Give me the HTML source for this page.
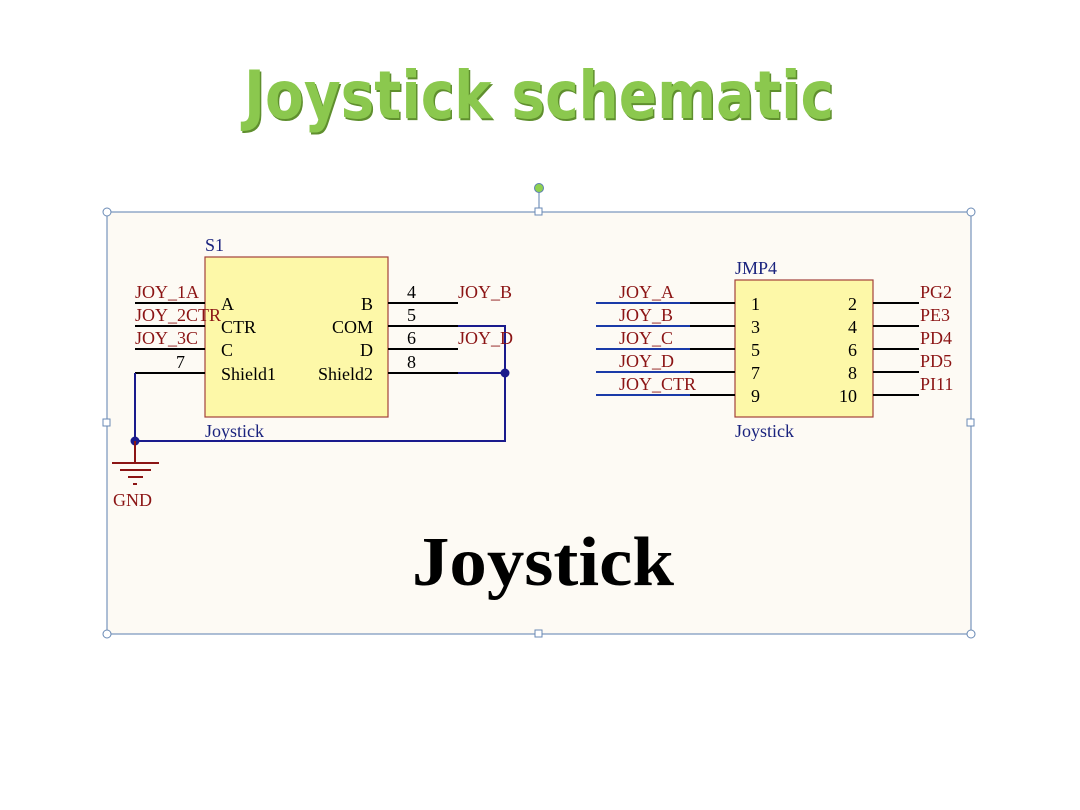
<!DOCTYPE html>
<html><head><meta charset="utf-8"><style>
html,body{margin:0;padding:0;background:#fff;width:1080px;height:810px;overflow:hidden}
svg{display:block}
.r{fill:#8b1414;font-family:"Liberation Serif",serif;font-size:18px}
.k{fill:#000;font-family:"Liberation Serif",serif;font-size:18px}
.b{fill:#1a237e;font-family:"Liberation Serif",serif;font-size:18px}
</style></head><body>
<svg width="1080" height="810" viewBox="0 0 1080 810" xmlns="http://www.w3.org/2000/svg">
<text x="539" y="118" text-anchor="middle" font-family="'DejaVu Sans',sans-serif" font-weight="bold" font-size="66" fill="#5f8f2e" textLength="590" lengthAdjust="spacingAndGlyphs" transform="translate(1.5,2)">Joystick schematic</text>
<text x="539" y="118" text-anchor="middle" font-family="'DejaVu Sans',sans-serif" font-weight="bold" font-size="66" fill="#8bc84e" textLength="590" lengthAdjust="spacingAndGlyphs">Joystick schematic</text>

<rect x="107" y="212" width="864" height="422" fill="#fdfaf4" stroke="#5b7faf" stroke-width="1"/>
<line x1="539" y1="188" x2="539" y2="212" stroke="#5b7faf"/>
<circle cx="539" cy="188" r="4.5" fill="#8fd14f" stroke="#5b7faf"/>
<g fill="#fff" stroke="#6a8ab5">
<circle cx="107" cy="212" r="4"/><circle cx="971" cy="212" r="4"/><circle cx="107" cy="634" r="4"/><circle cx="971" cy="634" r="4"/>
<rect x="535" y="208" width="7" height="7"/><rect x="535" y="630" width="7" height="7"/><rect x="103" y="419" width="7" height="7"/><rect x="967" y="419" width="7" height="7"/>
</g>

<!-- S1 -->
<rect x="205" y="257" width="183" height="160" fill="#fdf8a8" stroke="#a3413b" stroke-width="1.2"/>
<text class="b" x="205" y="251">S1</text>
<text class="b" x="205" y="437">Joystick</text>
<g stroke="#000" stroke-width="2">
<line x1="135" y1="303" x2="205" y2="303"/><line x1="135" y1="326" x2="205" y2="326"/><line x1="135" y1="349" x2="205" y2="349"/><line x1="135" y1="373" x2="205" y2="373"/>
<line x1="388" y1="303" x2="458" y2="303"/><line x1="388" y1="326" x2="458" y2="326"/><line x1="388" y1="349" x2="458" y2="349"/><line x1="388" y1="373" x2="458" y2="373"/>
</g>
<g stroke="#1a1a8c" stroke-width="2" fill="none">
<polyline points="458,326 505,326 505,441 135,441 135,373"/>
<line x1="458" y1="373" x2="505" y2="373"/>
<line x1="135" y1="441" x2="135" y2="463"/>
</g>
<circle cx="505" cy="373" r="4.5" fill="#1a1a8c"/><circle cx="135" cy="441" r="4.5" fill="#1a1a8c"/>
<g stroke="#8b1414" stroke-width="2">
<line x1="135" y1="441" x2="135" y2="463"/>
<line x1="112" y1="463" x2="159" y2="463"/><line x1="120" y1="470" x2="151" y2="470"/><line x1="128" y1="477" x2="143" y2="477"/><line x1="133" y1="484" x2="137" y2="484"/>
</g>
<text class="r" x="113" y="506">GND</text>
<text class="r" x="135" y="298">JOY_1A</text>
<text class="r" x="135" y="321">JOY_2CTR</text>
<text class="r" x="135" y="344">JOY_3C</text>
<text class="k" x="176" y="368">7</text>
<text class="k" x="221" y="310">A</text>
<text class="k" x="221" y="333">CTR</text>
<text class="k" x="221" y="356">C</text>
<text class="k" x="221" y="380">Shield1</text>
<text class="k" x="373" y="310" text-anchor="end">B</text>
<text class="k" x="373" y="333" text-anchor="end">COM</text>
<text class="k" x="373" y="356" text-anchor="end">D</text>
<text class="k" x="373" y="380" text-anchor="end">Shield2</text>
<text class="k" x="407" y="298">4</text><text class="k" x="407" y="321">5</text><text class="k" x="407" y="344">6</text><text class="k" x="407" y="368">8</text>
<text class="r" x="458" y="298">JOY_B</text>
<text class="r" x="458" y="344">JOY_D</text>

<!-- JMP4 -->
<rect x="735" y="280" width="138" height="137" fill="#fdf8a8" stroke="#a3413b" stroke-width="1.2"/>
<text class="b" x="735" y="274">JMP4</text>
<text class="b" x="735" y="437">Joystick</text>
<g stroke-width="2">
<g stroke="#1a3aa8"><line x1="596" y1="303" x2="690" y2="303"/><line x1="596" y1="326" x2="690" y2="326"/><line x1="596" y1="349" x2="690" y2="349"/><line x1="596" y1="372" x2="690" y2="372"/><line x1="596" y1="395" x2="690" y2="395"/></g>
<g stroke="#000"><line x1="690" y1="303" x2="735" y2="303"/><line x1="690" y1="326" x2="735" y2="326"/><line x1="690" y1="349" x2="735" y2="349"/><line x1="690" y1="372" x2="735" y2="372"/><line x1="690" y1="395" x2="735" y2="395"/>
<line x1="873" y1="303" x2="919" y2="303"/><line x1="873" y1="326" x2="919" y2="326"/><line x1="873" y1="349" x2="919" y2="349"/><line x1="873" y1="372" x2="919" y2="372"/><line x1="873" y1="395" x2="919" y2="395"/></g>
</g>
<text class="r" x="619" y="298">JOY_A</text><text class="r" x="619" y="321">JOY_B</text><text class="r" x="619" y="344">JOY_C</text><text class="r" x="619" y="367">JOY_D</text><text class="r" x="619" y="390">JOY_CTR</text>
<text class="k" x="751" y="310">1</text><text class="k" x="751" y="333">3</text><text class="k" x="751" y="356">5</text><text class="k" x="751" y="379">7</text><text class="k" x="751" y="402">9</text>
<text class="k" x="857" y="310" text-anchor="end">2</text><text class="k" x="857" y="333" text-anchor="end">4</text><text class="k" x="857" y="356" text-anchor="end">6</text><text class="k" x="857" y="379" text-anchor="end">8</text><text class="k" x="857" y="402" text-anchor="end">10</text>
<text class="r" x="920" y="298">PG2</text><text class="r" x="920" y="321">PE3</text><text class="r" x="920" y="344">PD4</text><text class="r" x="920" y="367">PD5</text><text class="r" x="920" y="390">PI11</text>

<text x="543" y="585" text-anchor="middle" font-family="'Liberation Serif',serif" font-weight="bold" font-size="70" fill="#000" textLength="262" lengthAdjust="spacingAndGlyphs">Joystick</text>
</svg>
</body></html>
